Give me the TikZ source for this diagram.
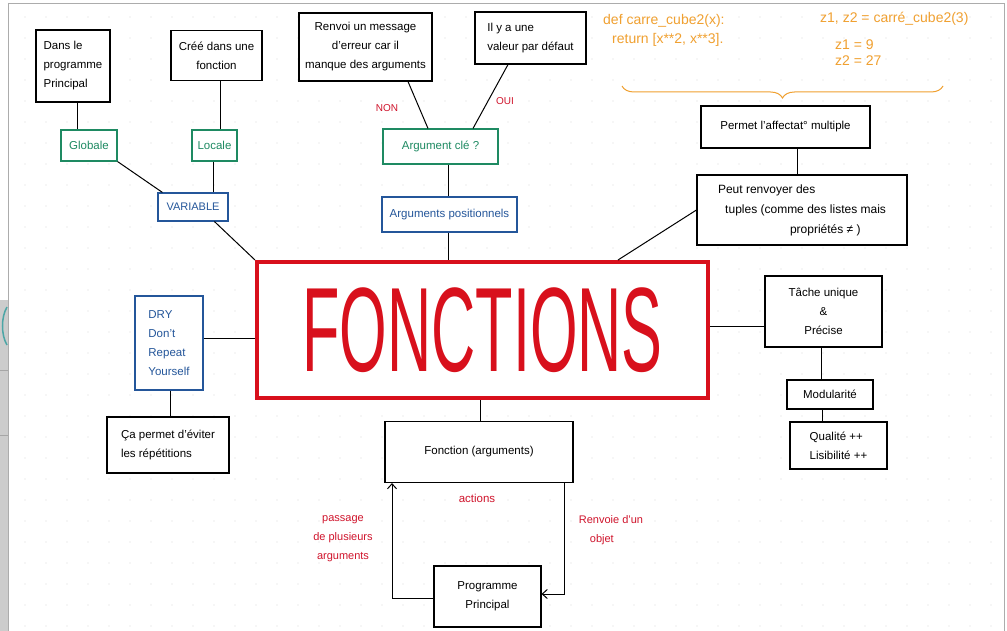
\documentclass[tikz,border=0pt]{standalone}
\usepackage{fontspec}
\setmainfont{Liberation Sans}
\newfontfamily\bigfont[FakeStretch=0.51]{Liberation Sans}
\usetikzlibrary{decorations.pathreplacing,arrows.meta}
\definecolor{grn}{HTML}{1E8A62}
\definecolor{blu}{HTML}{24569A}
\definecolor{rbox}{HTML}{D8101C}
\definecolor{rtxt}{HTML}{D0142C}
\definecolor{org}{HTML}{F0A030}
\tikzset{
 bkbox/.style={draw, line width=1.1pt, fill=white, inner sep=2pt, align=center, font=\fontsize{11.5}{19}\selectfont},
 greenbox/.style={bkbox, draw=grn, text=grn},
 bluebox/.style={bkbox, draw=blu, text=blu},
 link/.style={line width=1pt},
 flow/.style={line width=1pt, -{Straight Barb[length=5pt,width=9pt]}},
 note/.style={text=rtxt, align=center, font=\fontsize{11}{19}\selectfont},
 code/.style={text=org, anchor=west, inner sep=0pt, font=\fontsize{14}{16}\selectfont},
 griddot/.style={fill=gray!30},
}
\begin{document}
\begin{tikzpicture}[x=1pt,y=-1pt]
\useasboundingbox (0,0) rectangle (1007,631);
\fill[white] (0,0) rectangle (1007,631);
% dot grid
\foreach \x in {25,46,...,1000} {
  \foreach \y in {17,38,...,631} {
    \fill[griddot] (\x,\y) circle (0.6pt);
  }
}
% screenshot frame
\fill[gray!40] (0,300) rectangle (8,631);
\draw[gray!70, line width=0.6pt] (0,370) -- (8,370) (0,435) -- (8,435);
\draw[teal!70, line width=1.5pt] (7,307) .. controls (1,317) and (1,335) .. (7,345);
\draw[gray!65, line width=0.8pt] (8,3) -- (1004,3) -- (1004,631);
\draw[gray!65, line width=0.8pt] (8,3) -- (8,631);

% orange code
\node[code] (def) at (603,21) {def carre\_cube2(x):};
\node[code] (ret) at (612,40) {return [x**2, x**3].};
\node[code] (zz) at (820,19) {z1, z2 = carré\_cube2(3)};
\node[code] (z1) at (835,45) {z1 = 9};
\node[code] (z2) at (835,61) {z2 = 27};
\draw[org, line width=1pt, decorate, decoration={brace, amplitude=12pt, mirror}] (622,86) -- (943,86);

% boxes
\node[bkbox, minimum width=74pt, minimum height=72pt, align=left] (dans) at (73,66) {Dans le\\programme\\Principal};
\node[bkbox, minimum width=91pt, minimum height=50pt] (cree) at (216.5,55.5) {Créé dans une\\fonction};
\node[bkbox, minimum width=133pt, minimum height=68pt] (renvoi) at (365.5,47) {Renvoi un message\\d'erreur car il\\manque des arguments};
\node[bkbox, minimum width=111pt, minimum height=52pt, align=left] (ilya) at (530.5,38) {Il y a une\\valeur par défaut};
\node[greenbox, minimum width=56pt, minimum height=31pt] (glob) at (89,145.5) {Globale};
\node[greenbox, minimum width=45pt, minimum height=31pt] (loc) at (214.5,145.5) {Locale};
\node[bluebox, minimum width=70pt, minimum height=28pt, font=\fontsize{11}{15}\selectfont] (var) at (193,207) {VARIABLE};
\node[greenbox, minimum width=115pt, minimum height=35pt] (cle) at (440.5,146.5) {Argument clé ?};
\node[bluebox, minimum width=135pt, minimum height=35pt] (pos) at (449.5,214.5) {Arguments positionnels};
\node[bkbox, minimum width=169pt, minimum height=42pt] (affect) at (785.5,127) {Permet l'affectat° multiple};
\node[bkbox, minimum width=210pt, minimum height=70pt, align=left, font=\fontsize{12}{20}\selectfont] (tuples) at (802,210) {Peut renvoyer des\\\hspace{0.6em}tuples (comme des listes mais\\\hspace{6em}propriétés ≠ )};
\node[draw=rbox, line width=4pt, fill=white, minimum width=451pt, minimum height=136pt, inner sep=0pt, text=rbox, font=\bigfont\fontsize{120}{120}\selectfont] (fonctions) at (482.5,330) {FONCTIONS};
\node[bkbox, minimum width=117pt, minimum height=71pt] (tache) at (823.5,311.5) {Tâche unique\\\&\\Précise};
\node[bkbox, minimum width=86pt, minimum height=29pt] (modul) at (830,394.5) {Modularité};
\node[bkbox, minimum width=97pt, minimum height=47pt, align=left] (qual) at (838.5,445.5) {Qualité ++\\Lisibilité ++};
\node[bluebox, minimum width=68pt, minimum height=94pt, align=left] (dry) at (169,343) {DRY\\Don't\\Repeat\\Yourself};
\node[bkbox, minimum width=122pt, minimum height=56pt, align=left] (evite) at (168,445) {Ça permet d'éviter\\les répétitions};
\node[bkbox, minimum width=188pt, minimum height=61pt] (fonc) at (479,452) {Fonction (arguments)};
\node[bkbox, minimum width=107pt, minimum height=61pt] (prog) at (487.5,596.5) {Programme\\Principal};

% labels
\node[note, font=\fontsize{10}{12}\selectfont] (non) at (387,108) {NON};
\node[note, font=\fontsize{10}{12}\selectfont] (oui) at (505,101) {OUI};
\node[note, font=\fontsize{11.5}{14}\selectfont] (actions) at (477,498) {actions};
\node[note] (passage) at (343,539) {passage\\de plusieurs\\arguments};
\node[note, align=left] (renvoie) at (611,530) {Renvoie d'un\\\quad objet};

% connectors
\coordinate (c1) at (77,0);
\draw[link] (c1 |- dans.south) -- (c1 |- glob.north);
\coordinate (c2) at (220,0);
\draw[link] (c2 |- cree.south) -- (c2 |- loc.north);
\coordinate (c3) at (213,0);
\draw[link] (c3 |- loc.south) -- (c3 |- var.north);
\draw[link] (glob.south east) -- ([xshift=5pt]var.north west);
\draw[link] ([xshift=57pt]var.south west) -- (fonctions.north west);
\coordinate (c4) at (408,0);
\coordinate (c5) at (428,0);
\draw[link] (c4 |- renvoi.south) -- (c5 |- cle.north);
\coordinate (c6) at (508,0);
\coordinate (c7) at (473,0);
\draw[link] (c6 |- ilya.south) -- (c7 |- cle.north);
\coordinate (c8) at (448,0);
\draw[link] (c8 |- cle.south) -- (c8 |- pos.north);
\draw[link] (c8 |- pos.south) -- (c8 |- fonctions.north);
\coordinate (c9) at (797,0);
\draw[link] (c9 |- affect.south) -- (c9 |- tuples.north);
\coordinate (c10) at (618,0);
\draw[link] (tuples.west) -- (c10 |- fonctions.north);
\coordinate (r1) at (0,326);
\draw[link] (fonctions.east |- r1) -- (tache.west |- r1);
\coordinate (c11) at (821,0);
\draw[link] (c11 |- tache.south) -- (c11 |- modul.north);
\coordinate (c12) at (822,0);
\draw[link] (c12 |- modul.south) -- (c12 |- qual.north);
\coordinate (r2) at (0,338);
\draw[link] (dry.east |- r2) -- (fonctions.west |- r2);
\coordinate (c13) at (170,0);
\draw[link] (c13 |- dry.south) -- (c13 |- evite.north);
\coordinate (c14) at (480,0);
\draw[link] (c14 |- fonctions.south) -- (c14 |- fonc.north);
% flow loop
\coordinate (l1) at (392,598);
\draw[flow] (prog.west |- l1) -- (l1) -- (l1 |- fonc.south);
\coordinate (l2) at (564,594);
\draw[flow] (l2 |- fonc.south) -- (l2) -- (prog.east |- l2);
\end{tikzpicture}
\end{document}
